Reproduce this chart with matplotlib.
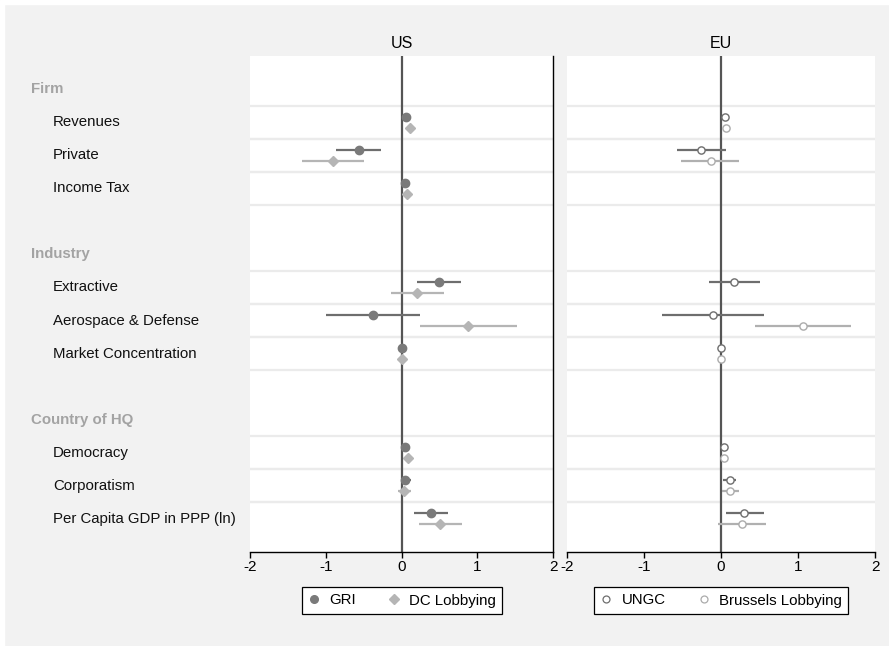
import numpy as np
import matplotlib
matplotlib.use("Agg")
import matplotlib.pyplot as plt
from matplotlib.transforms import blended_transform_factory
from matplotlib.lines import Line2D
from matplotlib.patches import Rectangle

plt.rcParams['font.family'] = ['Liberation Sans', 'DejaVu Sans']

# ---------------- data ----------------
row_labels = ["Firm", "Revenues", "Private", "Income Tax", "",
              "Industry", "Extractive", "Aerospace & Defense", "Market Concentration", "",
              "Country of HQ", "Democracy", "Corporatism", "Per Capita GDP in PPP (ln)"]
header_rows = ["Firm", "Industry", "Country of HQ"]
coef_rows = ["Revenues", "Private", "Income Tax",
             "Extractive", "Aerospace & Defense", "Market Concentration",
             "Democracy", "Corporatism", "Per Capita GDP in PPP (ln)"]

nan = np.nan
# US panel
gri_est = [0.063, -0.56, 0.046, 0.50, -0.38, 0.0, 0.046, 0.046, 0.39]
gri_lo  = [0.05, -0.86, 0.03, 0.21, -1.00, -0.01, 0.03, -0.01, 0.17]
gri_hi  = [0.08, -0.27, 0.06, 0.78, 0.24, 0.01, 0.06, 0.12, 0.62]
dc_est  = [0.107, -0.91, 0.067, 0.20, 0.88, 0.0, 0.09, 0.03, 0.51]
dc_lo   = [0.09, -1.32, 0.05, -0.14, 0.24, -0.01, 0.07, -0.05, 0.23]
dc_hi   = [0.12, -0.49, 0.08, 0.56, 1.52, 0.01, 0.11, 0.125, 0.80]
# EU panel
ungc_est = [0.052, -0.26, nan, 0.17, -0.11, 0.0, 0.04, 0.117, 0.30]
ungc_lo  = [0.04, -0.57, nan, -0.16, -0.77, -0.01, 0.0, 0.03, 0.06]
ungc_hi  = [0.065, 0.06, nan, 0.50, 0.56, 0.01, 0.08, 0.20, 0.56]
bru_est  = [0.065, -0.13, nan, nan, 1.06, 0.0, 0.045, 0.12, 0.27]
bru_lo   = [0.05, -0.52, nan, nan, 0.44, -0.01, 0.03, 0.01, -0.04]
bru_hi   = [0.08, 0.24, nan, nan, 1.69, 0.01, 0.06, 0.23, 0.58]

x_ticks = [-2, -1, 0, 1, 2]
panel_titles = ["US", "EU"]

# ---------------- styling ----------------
W, H = 889, 646
fig = plt.figure(figsize=(W / 100, H / 100), dpi=100)
fig.patch.set_facecolor("#f2f2f2")
fig.patches.append(Rectangle((0, 0), 4 / W, 1, transform=fig.transFigure, color="white", zorder=-1))
fig.patches.append(Rectangle((0, 1 - 4 / H), 1, 4 / H, transform=fig.transFigure, color="white", zorder=-1))

def px_axes(x0, x1, y0, y1):
    return fig.add_axes([x0 / W, 1 - y1 / H, (x1 - x0) / W, (y1 - y0) / H])

ax_us = px_axes(250, 553, 56, 552)
ax_eu = px_axes(567, 875, 56, 552)

ypos = {lab: i + 1 for i, lab in enumerate(row_labels) if lab}
coef_y = np.array([ypos[c] for c in coef_rows], dtype=float)
off = 0.166

C_DARK = "#7a7a7a"
C_DARK_LINE = "#6e6e6e"
C_LIGHT = "#b5b5b5"
FS = 10.8

def setup(ax, title, right_spine):
    ax.set_facecolor("white")
    ax.set_xlim(-2, 2)
    ax.set_ylim(15, 0)
    for c in coef_rows:
        y = ypos[c]
        for b in (y - 0.5, y + 0.5):
            if c == coef_rows[-1] and b == y + 0.5:
                continue
            ax.axhline(b, color="#ebebeb", lw=1.6, zorder=0)
    ax.axvline(0, color="#555555", lw=1.6, zorder=1)
    ax.set_yticks([])
    ax.set_xticks(x_ticks)
    ax.set_xticklabels([str(t) for t in x_ticks])
    ax.tick_params(axis="x", direction="out", length=4, width=1, color="black",
                   labelsize=11, pad=2)
    for s in ("top", "left"):
        ax.spines[s].set_visible(False)
    ax.spines["right"].set_visible(right_spine)
    ax.spines["right"].set_color("black")
    ax.spines["right"].set_linewidth(1.0)
    ax.spines["bottom"].set_color("black")
    ax.spines["bottom"].set_linewidth(1.0)
    ax.set_title(title, fontsize=11.5, pad=6)

setup(ax_us, panel_titles[0], True)
setup(ax_eu, panel_titles[1], False)

def series(ax, est, lo, hi, dy, color, lcolor, marker, ms, filled):
    est = np.array(est); lo = np.array(lo); hi = np.array(hi)
    yy = coef_y + dy
    for e, l, h, y in zip(est, lo, hi, yy):
        if np.isnan(e):
            continue
        ax.plot([l, h], [y, y], color=lcolor, lw=1.6, solid_capstyle="butt", zorder=2)
    if filled:
        ax.plot(est, yy, ls="none", marker=marker, ms=ms, color=color, mec=color, zorder=3)
    else:
        ax.plot(est, yy, ls="none", marker=marker, ms=ms, mfc="white", mec=color, mew=1.0, zorder=3)

series(ax_us, gri_est, gri_lo, gri_hi, -off, C_DARK, C_DARK_LINE, "o", 6.0, True)
series(ax_us, dc_est, dc_lo, dc_hi, off, C_LIGHT, C_LIGHT, "D", 5.2, True)
series(ax_eu, ungc_est, ungc_lo, ungc_hi, -off, C_DARK_LINE, C_DARK_LINE, "o", 5.2, False)
series(ax_eu, bru_est, bru_lo, bru_hi, off, "#ababab", "#b0b0b0", "o", 5.2, False)

# row labels in left margin
tr = blended_transform_factory(fig.transFigure, ax_us.transData)
for lab in row_labels:
    if not lab:
        continue
    if lab in header_rows:
        fig.text(31 / W, ypos[lab], lab, transform=tr, fontsize=FS, color="#a3a3a3",
                 fontweight="bold", va="center", ha="left")
    else:
        fig.text(53 / W, ypos[lab], lab, transform=tr, fontsize=FS, color="#111111",
                 va="center", ha="left")

# legends
def make_legend(handles, labels, cx):
    leg = fig.legend(handles, labels, loc="center", bbox_to_anchor=(cx / W, 1 - 600.5 / H),
                     ncol=2, frameon=True, fancybox=False, edgecolor="black",
                     facecolor="white", framealpha=1, fontsize=FS, handlelength=0.8,
                     handletextpad=0.6, columnspacing=2.15, borderpad=0.42,
                     borderaxespad=0)
    leg.get_frame().set_linewidth(0.9)
    return leg

h_us = [Line2D([], [], ls="none", marker="o", ms=5.5, color=C_DARK),
        Line2D([], [], ls="none", marker="D", ms=5.0, color=C_LIGHT)]
make_legend(h_us, ["GRI", "DC Lobbying"], 402)
h_eu = [Line2D([], [], ls="none", marker="o", ms=5.0, mfc="white", mec=C_DARK_LINE, mew=0.9),
        Line2D([], [], ls="none", marker="o", ms=5.0, mfc="white", mec="#ababab", mew=0.9)]
make_legend(h_eu, ["UNGC", "Brussels Lobbying"], 721)

fig.savefig("out.png", dpi=100, facecolor=fig.get_facecolor())
